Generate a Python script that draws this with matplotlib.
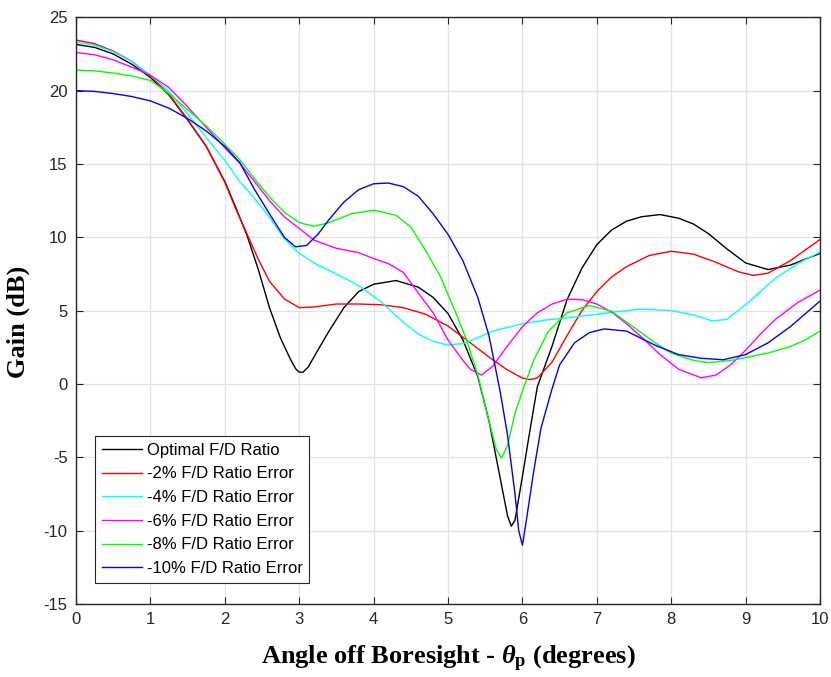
import matplotlib
matplotlib.use("Agg")
import matplotlib.pyplot as plt

plt.rcParams['font.family'] = ['Liberation Sans', 'DejaVu Sans']
plt.rcParams['axes.unicode_minus'] = False
plt.rcParams['mathtext.fontset'] = 'custom'
plt.rcParams['mathtext.it'] = 'Liberation Serif:italic:bold'
plt.rcParams['mathtext.rm'] = 'Liberation Serif:bold'
plt.rcParams['mathtext.bf'] = 'Liberation Serif:bold'

# Optimal F/D ratio
x_opt = [0, 0.25, 0.5, 0.75, 1.0, 1.25, 1.5, 1.75, 2.0, 2.15, 2.3, 2.45, 2.6, 2.75, 2.88, 2.95,
         3.0, 3.05, 3.12, 3.25, 3.4, 3.6, 3.8, 4.0, 4.3, 4.6, 4.8, 5.0, 5.2, 5.4, 5.55, 5.7,
         5.8, 5.85, 5.9, 6.0, 6.1, 6.2, 6.4, 6.6, 6.8, 7.0, 7.2, 7.4, 7.6, 7.85, 8.1, 8.3,
         8.5, 8.75, 9.0, 9.3, 9.6, 10.0]
g_opt = [23.15, 22.95, 22.5, 21.8, 20.9, 19.7, 18.0, 16.2, 13.8, 12.0, 10.1, 7.8, 5.2, 3.1,
         1.7, 1.05, 0.8, 0.8, 1.15, 2.3, 3.6, 5.2, 6.3, 6.8, 7.05, 6.6, 5.9, 4.8, 3.0, 0.5,
         -2.5, -6.4, -9.0, -9.7, -9.3, -6.3, -3.2, -0.2, 2.6, 5.75, 7.9, 9.5, 10.5, 11.1,
         11.4, 11.55, 11.3, 10.9, 10.25, 9.2, 8.25, 7.8, 8.1, 8.9]

# -2% error
x_m2 = [0, 0.25, 0.5, 0.75, 1.0, 1.25, 1.5, 1.75, 2.0, 2.15, 2.3, 2.45, 2.6, 2.8, 3.0, 3.2,
        3.5, 3.8, 4.1, 4.4, 4.7, 5.0, 5.3, 5.6, 5.8, 6.0, 6.1, 6.2, 6.4, 6.6, 6.8, 7.0, 7.2,
        7.4, 7.7, 8.0, 8.3, 8.6, 8.9, 9.1, 9.3, 9.6, 10.0]
g_m2 = [23.45, 23.2, 22.7, 22.0, 21.0, 19.75, 18.05, 16.2, 13.75, 11.9, 10.2, 8.5, 7.0, 5.8,
        5.2, 5.25, 5.45, 5.45, 5.4, 5.2, 4.75, 3.95, 2.8, 1.65, 0.95, 0.4, 0.3, 0.4, 1.5, 3.3,
        5.0, 6.3, 7.3, 8.0, 8.75, 9.05, 8.85, 8.3, 7.65, 7.4, 7.55, 8.4, 9.85]

# -4% error
x_m4 = [0, 0.25, 0.5, 0.75, 1.0, 1.25, 1.5, 1.75, 2.0, 2.2, 2.4, 2.6, 2.8, 3.0, 3.2, 3.5,
        3.8, 4.1, 4.4, 4.6, 4.8, 5.0, 5.2, 5.4, 5.6, 5.8, 6.0, 6.3, 6.6, 7.0, 7.3, 7.6, 8.0,
        8.3, 8.55, 8.75, 9.0, 9.2, 9.4, 9.7, 10.0]
g_m4 = [23.3, 23.1, 22.65, 22.0, 21.05, 19.95, 18.4, 16.8, 15.25, 13.8, 12.65, 11.35, 9.9,
        8.9, 8.25, 7.5, 6.7, 5.6, 4.2, 3.4, 2.9, 2.65, 2.75, 3.15, 3.6, 3.85, 4.1, 4.35, 4.5,
        4.75, 4.95, 5.1, 5.0, 4.7, 4.3, 4.4, 5.4, 6.3, 7.2, 8.2, 9.0]

# -6% error
x_m6 = [0, 0.25, 0.5, 0.75, 1.0, 1.25, 1.5, 1.75, 2.0, 2.2, 2.4, 2.6, 2.8, 3.0, 3.2, 3.5,
        3.8, 4.0, 4.2, 4.4, 4.6, 4.8, 5.0, 5.2, 5.3, 5.45, 5.6, 5.8, 6.0, 6.2, 6.4, 6.6, 6.8,
        7.0, 7.2, 7.4, 7.6, 7.85, 8.1, 8.4, 8.6, 8.8, 9.0, 9.2, 9.4, 9.7, 10.0]
g_m6 = [22.6, 22.45, 22.1, 21.6, 21.05, 20.2, 18.9, 17.5, 16.1, 15.05, 13.8, 12.5, 11.4,
        10.6, 9.8, 9.25, 8.95, 8.55, 8.2, 7.6, 6.2, 4.85, 3.0, 1.6, 1.0, 0.6, 1.2, 2.6, 3.9,
        4.85, 5.45, 5.78, 5.75, 5.45, 4.9, 4.1, 3.2, 2.0, 1.0, 0.42, 0.6, 1.3, 2.3, 3.4, 4.4,
        5.55, 6.4]

# -8% error
x_m8 = [0, 0.25, 0.5, 0.75, 1.0, 1.25, 1.5, 1.75, 2.0, 2.2, 2.4, 2.6, 2.8, 3.0, 3.2, 3.4,
        3.7, 4.0, 4.3, 4.5, 4.7, 4.9, 5.1, 5.25, 5.4, 5.5, 5.6, 5.65, 5.72, 5.8, 5.9, 6.0,
        6.15, 6.35, 6.6, 6.9, 7.2, 7.5, 7.8, 8.0, 8.3, 8.5, 8.8, 9.0, 9.3, 9.6, 9.8, 10.0]
g_m8 = [21.4, 21.35, 21.2, 21.0, 20.7, 19.8, 18.7, 17.6, 16.35, 15.3, 14.0, 12.75, 11.7,
        11.0, 10.75, 11.0, 11.6, 11.85, 11.5, 10.7, 9.1, 7.3, 4.9, 3.0, 0.6, -1.5, -3.5, -4.5,
        -5.05, -4.2, -2.0, -0.5, 1.6, 3.6, 4.85, 5.35, 4.95, 3.85, 2.75, 2.1, 1.6, 1.45, 1.6,
        1.8, 2.1, 2.55, 3.0, 3.6]

# -10% error
x_m10 = [0, 0.25, 0.5, 0.75, 1.0, 1.25, 1.5, 1.75, 2.0, 2.2, 2.4, 2.6, 2.8, 2.95, 3.1, 3.25,
         3.4, 3.6, 3.8, 4.0, 4.2, 4.4, 4.6, 4.8, 5.0, 5.2, 5.4, 5.55, 5.7, 5.8, 5.9, 5.95, 6.0,
         6.05, 6.15, 6.25, 6.4, 6.5, 6.7, 6.9, 7.1, 7.4, 7.8, 8.1, 8.4, 8.7, 9.0, 9.3, 9.6,
         10.0]
g_m10 = [20.0, 19.95, 19.8, 19.6, 19.3, 18.8, 18.1, 17.25, 16.2, 15.1, 13.25, 11.6, 10.0,
         9.35, 9.45, 10.2, 11.2, 12.4, 13.25, 13.65, 13.7, 13.45, 12.8, 11.6, 10.2, 8.4, 5.9,
         3.3, -0.5, -3.5, -7.5, -10.0, -11.0, -9.4, -6.0, -3.0, -0.3, 1.3, 2.8, 3.5, 3.75,
         3.6, 2.6, 2.0, 1.75, 1.65, 2.0, 2.8, 3.9, 5.65]

series = [
    (x_opt, g_opt, '#000000', 'Optimal F/D Ratio'),
    (x_m2, g_m2, '#ff0000', '-2% F/D Ratio Error'),
    (x_m4, g_m4, '#00ffff', '-4% F/D Ratio Error'),
    (x_m6, g_m6, '#ff00ff', '-6% F/D Ratio Error'),
    (x_m8, g_m8, '#00ff00', '-8% F/D Ratio Error'),
    (x_m10, g_m10, '#0000ff', '-10% F/D Ratio Error'),
]

fig = plt.figure(figsize=(8.31, 6.77), dpi=100)
ax = fig.add_axes([0.0915, 0.108, 0.8953, 0.8664])

for x, g, c, lab in series:
    ax.plot(x, g, color=c, lw=1.0, label=lab)

ax.set_xlim(0, 10)
ax.set_ylim(-15, 25)
ax.set_xticks(range(0, 11))
ax.set_yticks(range(-15, 26, 5))
ax.grid(True, color='#e3e3e3', lw=0.9)
ax.set_axisbelow(True)
ax.tick_params(direction='in', top=True, right=True, labelsize=12,
               colors='#262626', length=5, width=0.8, pad=6)
for s in ax.spines.values():
    s.set_color('#262626')
    s.set_linewidth(1.0)

ax.set_xlabel(r'Angle off Boresight - $\theta_{\mathrm{p}}$ (degrees)',
              fontsize=19, fontweight='bold', family='Liberation Serif', labelpad=12)
ax.set_ylabel('Gain (dB)', fontsize=19, fontweight='bold', family='Liberation Serif')
ax.yaxis.set_label_coords(-0.062, 0.48)

leg = ax.legend(loc='lower left', bbox_to_anchor=(0.0255, 0.036), borderaxespad=0,
                fontsize=12, fancybox=False, framealpha=1, edgecolor='#262626',
                handlelength=2.4, handletextpad=0.3, labelspacing=0.52,
                borderpad=0.4)
leg.get_frame().set_linewidth(0.8)

fig.savefig('out.png', dpi=100)
